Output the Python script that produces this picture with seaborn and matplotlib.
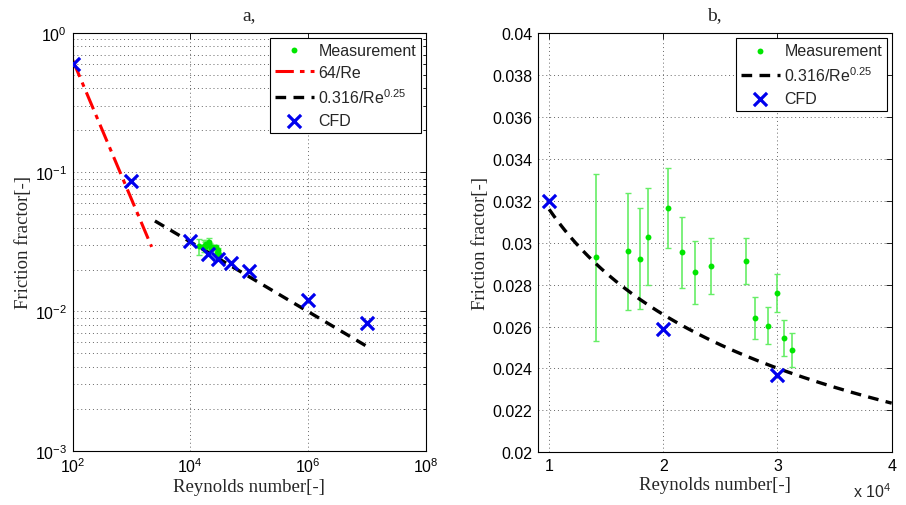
import numpy as np
import matplotlib
matplotlib.use("Agg")
import matplotlib.pyplot as plt
import matplotlib.ticker as mticker
import seaborn as sns

# measurement (Re, friction factor, +- error)
re_meas = [14100, 16900, 18000, 18650, 20450, 21600, 22750, 24150, 27250, 28000, 29200, 29950, 30600, 31250]
f_meas = [0.0293, 0.0296, 0.02925, 0.0303, 0.03165, 0.02955, 0.0286, 0.0289, 0.02915, 0.0264, 0.02605, 0.0276, 0.02545, 0.02487]
f_err = [0.0040, 0.0028, 0.0024, 0.0023, 0.0019, 0.0017, 0.0015, 0.00135, 0.0011, 0.0010, 0.0009, 0.0009, 0.00085, 0.0008]

# CFD results
re_cfd = [1e2, 1e3, 1e4, 2e4, 3e4, 5e4, 1e5, 1e6, 1e7]
f_cfd = [0.60, 0.087, 0.032, 0.0259, 0.0237, 0.0223, 0.0195, 0.0121, 0.0083]

# ranges of the analytic curves
re_lam_range = [100, 2200]
re_blas_range_a = [2500, 1e7]
re_blas_range_b = [10000, 40000]

sns.set_style("white")
plt.rcParams['font.family'] = ['Liberation Sans', 'DejaVu Sans']
plt.rcParams['mathtext.fontset'] = 'custom'
plt.rcParams['mathtext.rm'] = 'Liberation Sans'
plt.rcParams['mathtext.it'] = 'Liberation Sans:italic'
serif = ['Liberation Serif', 'DejaVu Serif']

green = '#00e600'
egreen = '#66ee66'
blue = '#0000ee'
grid_kw = dict(ls=(0, (1, 3)), lw=0.7, color='#666666')

fig = plt.figure(figsize=(9.06, 5.06), dpi=100)
ax1 = fig.add_axes([0.0802, 0.1073, 0.3896, 0.8255])
ax2 = fig.add_axes([0.5935, 0.1042, 0.3907, 0.8280])


def blasius(re):
    return 0.316 / np.asarray(re) ** 0.25


def draw(ax, blas_range, with_lam):
    ax.errorbar(re_meas, f_meas, yerr=f_err, fmt='none', ecolor=egreen,
                elinewidth=1.2, capsize=2.5, capthick=1.0, zorder=2)
    sns.scatterplot(x=re_meas, y=f_meas, ax=ax, color=green, s=18,
                    edgecolor=green, linewidth=0, label='Measurement', zorder=3)
    if with_lam:
        re_l = np.logspace(np.log10(re_lam_range[0]), np.log10(re_lam_range[1]), 50)
        sns.lineplot(x=re_l, y=64 / re_l, ax=ax, color='red', lw=2.2,
                     label='64/Re', zorder=2)
        ax.lines[-1].set_dashes([6, 2, 1.5, 2])
    re_b = np.logspace(np.log10(blas_range[0]), np.log10(blas_range[1]), 200)
    sns.lineplot(x=re_b, y=blasius(re_b), ax=ax, color='black', lw=2.4,
                 label='0.316/Re$^{0.25}$', zorder=2)
    ax.lines[-1].set_dashes([3.2, 2.2])
    sns.scatterplot(x=re_cfd, y=f_cfd, ax=ax, marker='x', s=90, color=blue,
                    linewidth=2.3, label='CFD', zorder=4)


draw(ax1, re_blas_range_a, True)
draw(ax2, re_blas_range_b, False)

for ax in (ax1, ax2):
    ax.tick_params(which='both', direction='in', top=True, right=True,
                   labelsize=11.5, length=4, width=0.6, colors='black', pad=4)
    ax.tick_params(which='minor', length=2.5)
    for s in ax.spines.values():
        s.set_linewidth(0.8)
        s.set_color('black')
    ax.set_xlabel('Reynolds number[-]', family=serif, fontsize=13.5, labelpad=2)
    ax.set_ylabel('Friction fractor[-]', family=serif, fontsize=13.5, labelpad=2)
    leg = ax.legend(loc='upper right', fontsize=11.5, fancybox=False,
                    edgecolor='black', framealpha=1, borderaxespad=0.3,
                    handlelength=2.4, handletextpad=0.3, labelspacing=0.45,
                    borderpad=0.3)
    leg.get_frame().set_linewidth(0.8)

# panel a
ax1.set_xscale('log')
ax1.set_yscale('log')
ax1.set_xlim(1e2, 1e8)
ax1.set_ylim(1e-3, 1e0)
ax1.xaxis.set_major_locator(mticker.FixedLocator([1e2, 1e4, 1e6, 1e8]))
ax1.xaxis.set_minor_locator(mticker.NullLocator())
ax1.yaxis.set_major_locator(mticker.LogLocator(base=10, numticks=10))
ax1.yaxis.set_minor_locator(mticker.LogLocator(base=10, subs=np.arange(2, 10), numticks=10))
ax1.yaxis.set_minor_formatter(mticker.NullFormatter())
ax1.grid(True, which='major', axis='x', **grid_kw)
ax1.grid(True, which='both', axis='y', **grid_kw)
ax1.set_title('a,', family=serif, fontsize=14, pad=10)

# panel b
ax2.set_xlim(9000, 40000)
ax2.set_ylim(0.02, 0.04)
ax2.xaxis.set_major_locator(mticker.FixedLocator([1e4, 2e4, 3e4, 4e4]))
ax2.xaxis.set_major_formatter(mticker.FuncFormatter(lambda v, p: '%g' % (v / 1e4)))
ax2.yaxis.set_major_locator(mticker.MultipleLocator(0.002))
ax2.yaxis.set_major_formatter(mticker.FuncFormatter(lambda v, p: '%g' % round(v, 4)))
ax2.grid(True, which='major', **grid_kw)
ax2.set_title('b,', family=serif, fontsize=14, pad=10)
ax2.text(1.0, -0.07, 'x 10$^{4}$', transform=ax2.transAxes, ha='right', va='top',
         fontsize=11.5)

fig.savefig('out.png', dpi=100)
